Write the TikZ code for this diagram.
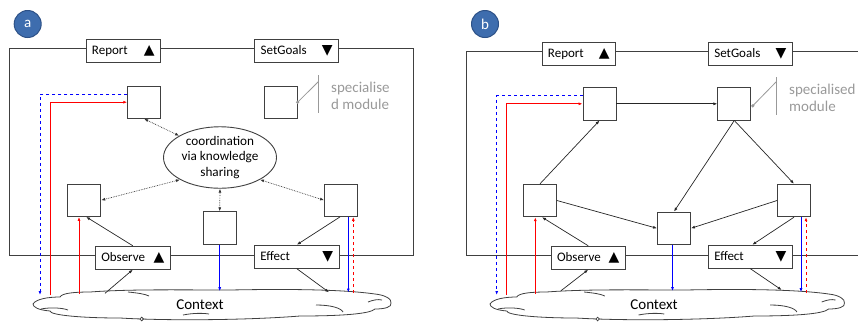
\documentclass[tikz,border=0pt]{standalone}
\usepackage{fontspec}
\setmainfont{Carlito}
\newfontfamily\symf{DejaVu Sans}
\usetikzlibrary{shapes.geometric,arrows.meta,calc}
\definecolor{badge}{HTML}{3E6DAE}
\definecolor{badgeedge}{HTML}{2D5187}
\definecolor{boxline}{HTML}{404040}
\definecolor{speccol}{HTML}{999999}
\newcommand\uptri{{\symf\fontsize{14}{14}\selectfont ▲}}
\newcommand\dntri{{\symf\fontsize{14}{14}\selectfont ▼}}
\newcommand\ctxcloud{%
  \draw[cloudline,fill=white] (0,304)
    .. controls (3,299) and (15,297) .. (27,297)
    .. controls (29,293) and (42,292) .. (57,292)
    .. controls (97,289) and (147,290) .. (197,290)
    .. controls (247,289) and (307,289) .. (342,294)
    .. controls (352,295) and (359,299) .. (358,303)
    .. controls (359,307) and (352,309) .. (342,309)
    .. controls (337,314) and (307,316) .. (267,316)
    .. controls (217,320) and (137,321) .. (87,318)
    .. controls (47,318) and (17,315) .. (17,311)
    .. controls (5,310) and (0,307) .. (0,304) -- cycle;
  \draw[cloudline] (8,309) .. controls (18,307) and (30,308) .. (35,310);
  \draw[cloudline] (95,292) .. controls (105,293) and (112,294) .. (116,296);
  \draw[cloudline] (283,305) .. controls (298,305) and (308,308) .. (310,312);
  \draw[cloudline] (335,302) .. controls (340,300) and (345,299) .. (349,300);
  \draw[cloudline] (150,315) .. controls (160,313) and (170,313) .. (176,314);
  \draw[cloudline,fill=white] (108.7,319) circle (1.8);
}
\begin{document}
\begin{tikzpicture}[x=1pt,y=-1pt,
  tip/.style={-{Latex[length=4pt,width=3pt]}},
  badgen/.style={circle,fill=badge,draw=badgeedge,line width=1pt,minimum size=27pt,inner sep=0pt,text=white,font=\fontsize{15}{15}\selectfont},
  frame/.style={draw=boxline,line width=0.9pt},
  lbl/.style={draw=boxline,line width=0.9pt,fill=white,minimum height=23pt,inner xsep=6pt,inner ysep=0pt,align=left,font=\fontsize{13}{14}\selectfont},
  modbox/.style={draw=boxline,line width=0.9pt,fill=white,minimum width=33pt,minimum height=32.5pt,inner sep=0pt},
  ellbox/.style={ellipse,draw=boxline,line width=0.9pt,fill=white,minimum width=113pt,minimum height=61.5pt,inner sep=0pt,align=center,font=\fontsize{13.2}{15.7}\selectfont},
  cloudline/.style={draw=black!75,line width=0.8pt},
  ctxt/.style={font=\fontsize{15}{16}\selectfont,inner sep=0pt},
  spec/.style={text=speccol,align=left,font=\fontsize{15}{17.2}\selectfont,inner sep=0pt,anchor=west},
  specline/.style={draw=speccol,line width=0.8pt},
  conn/.style={draw=black!85,line width=0.7pt,tip},
  dotc/.style={draw=black!80,line width=0.7pt,densely dotted,{Latex[length=4pt,width=3pt]}-{Latex[length=4pt,width=3pt]}},
  redc/.style={draw=red,line width=0.9pt,tip},
  bluec/.style={draw=blue,line width=0.9pt,tip}
]
\useasboundingbox (0,0) rectangle (858,322);

% ================= Panel a =================
\node[badgen] (ba) at (27.7,24) {a};
\draw[frame] (9.3,48.7) rectangle (413,255);
\begin{scope}[shift={(33,0)}]
  \ctxcloud
\end{scope}
\node[lbl,text width=62.7pt] (repa) at (123.3,51.2) {Report\hfill\uptri};
\node[lbl,text width=72pt] (seta) at (296.7,51.2) {SetGoals\hfill\dntri\hspace{4pt}};
\node[lbl,text width=63pt] (obsa) at (132.8,257.7) {Observe\hfill\uptri};
\node[lbl,text width=72.7pt] (effa) at (296.8,256.7) {Effect\hfill\dntri\hspace{4pt}};
\node[modbox] (tla) at (144.2,102.2) {};
\node[modbox] (spa) at (280.7,102.2) {};
\node[modbox] (la) at (84.2,200.2) {};
\node[modbox] (ra) at (341,200.2) {};
\node[modbox] (ca) at (219.7,228) {};
\node[ellbox] (ella) at (220,157.5) {coordination\\via knowledge\\sharing};
\node[ctxt] (ctxa) at (200,305) {Context};

% specialised module marker
\coordinate (spka) at (318.3,81.7);
\draw[specline] (spa.east) -- (spka);
\draw[specline] (318.3,75) -- (318.3,113);
\fill[speccol] (spa.east) circle (1.8);
\node[spec] (spta) at (331,96) {specialise\\d module};

% dotted coordination arrows
\draw[dotc] (tla.south) -- (ella.152);
\draw[dotc] (la.east) -- (ella.209);
\draw[dotc] (ca.north) -- (ella.south);
\draw[dotc] (ra.west) -- (ella.331);

% black arrows
\coordinate (c1a) at (105,293.3);
\coordinate (c2a) at (329,292.3);
\draw[conn] (obsa.north) -- ($(la.south)+(2,0)$);
\draw[conn] (c1a) -- (obsa.south);
\draw[conn] ($(ra.south)+(-1,0)$) -- (effa.north);
\draw[conn] (effa.south) -- (c2a);

% coloured feedback lines
\coordinate (bda) at (40,295);
\coordinate (rsa) at (50,295);
\coordinate (r2a) at (79,294);
\coordinate (r3a) at (353.3,293);
\draw[bluec,dashed] ($(tla.west)+(0,-8)$) -| (bda);
\draw[redc] (rsa) |- (tla.west);
\draw[redc] (r2a) -- (r2a |- la.south);
\draw[bluec] (ca.south) -- ++(0,46.5);
\draw[bluec] ($(ra.south)+(7.3,0)$) -- ++(0,75.6);
\draw[redc,dashed] (r3a) -- (r3a |- ra.south);

% ================= Panel b =================
\node[badgen] (bb) at (485,24) {b};
\draw[frame] (860,51) -- (466,51) -- (466,255) -- (860,255);
\begin{scope}[shift={(490,0)},xscale=0.99]
  \ctxcloud
\end{scope}
\node[lbl,text width=61.7pt] (repb) at (578.8,53.7) {Report\hfill\uptri};
\node[lbl,text width=72pt] (setb) at (750.3,53.7) {SetGoals\hfill\dntri\hspace{4pt}};
\node[lbl,text width=62.3pt] (obsb) at (588.2,257.7) {Observe\hfill\uptri};
\node[lbl,text width=72pt] (effb) at (750.3,256.7) {Effect\hfill\dntri\hspace{4pt}};
\node[modbox] (tlb) at (599.5,103.8) {};
\node[modbox] (trb) at (734.3,103.8) {};
\node[modbox] (lb) at (540,200.5) {};
\node[modbox] (rb) at (794,200.5) {};
\node[modbox] (cb) at (674,228.3) {};
\node[ctxt] (ctxb) at (654,304.5) {Context};

% specialised module marker
\coordinate (spkb) at (776,82);
\draw[specline] ($(trb.east)+(1.5,2)$) -- (spkb);
\draw[specline] (776,77.3) -- (776,115.3);
\fill[speccol] ($(trb.east)+(1.5,2)$) circle (1.8);
\node[spec] (sptb) at (789,98) {specialised\\module};

% black arrows
\draw[conn] (tlb.east) -- (trb.west);
\draw[conn] (lb.north) -- (tlb.south);
\draw[conn] (trb.south) -- (cb.north);
\draw[conn] (trb.south) -- (rb.north);
\draw[conn] (lb.east) -- (cb.west);
\draw[conn] (rb.west) -- (cb.east);
\coordinate (c1b) at (561,290.7);
\coordinate (c2b) at (781.7,290);
\draw[conn] (obsb.north) -- ($(lb.south)+(2,0)$);
\draw[conn] (c1b) -- (obsb.south);
\draw[conn] (rb.south) -- ($(effb.north)+(2,0)$);
\draw[conn] (effb.south) -- (c2b);

% coloured feedback lines
\coordinate (bdb) at (496.7,295);
\coordinate (rsb) at (506,295);
\coordinate (r2b) at (535.3,294);
\coordinate (r3b) at (806,293);
\draw[bluec,dashed] ($(tlb.west)+(0,-8)$) -| (bdb);
\draw[redc] (rsb) |- (tlb.west);
\draw[redc] (r2b) -- (r2b |- lb.south);
\draw[bluec] ($(cb.south)+(-1.5,0)$) -- ++(0,46);
\draw[bluec] ($(rb.south)+(7,0)$) -- ++(0,75);
\draw[redc,dashed] (r3b) -- (r3b |- rb.south);
\end{tikzpicture}
\end{document}
